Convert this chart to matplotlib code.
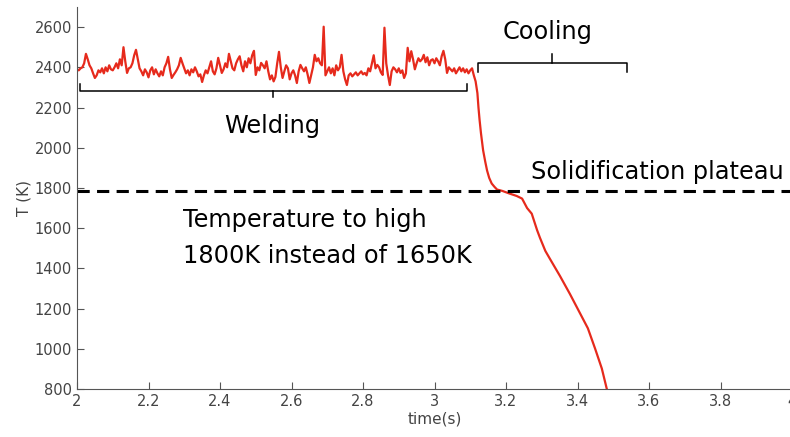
import numpy as np
import matplotlib
matplotlib.use("Agg")
import matplotlib.pyplot as plt

# welding phase, sampled every 5 ms from 2.000 s to 3.105 s
weld_T = [
    2390, 2385, 2395, 2400, 2420, 2467, 2440, 2410, 2395, 2370,
    2347, 2360, 2385, 2375, 2395, 2370, 2400, 2380, 2410, 2390,
    2385, 2400, 2420, 2395, 2440, 2410, 2500, 2430, 2372, 2395,
    2400, 2420, 2460, 2487, 2440, 2395, 2380, 2360, 2390, 2375,
    2350, 2385, 2400, 2365, 2390, 2370, 2355, 2380, 2360, 2400,
    2420, 2452, 2390, 2347, 2362, 2375, 2390, 2410, 2447, 2420,
    2395, 2370, 2385, 2360, 2390, 2375, 2400, 2380, 2355, 2365,
    2327, 2360, 2385, 2370, 2400, 2430, 2380, 2365, 2395, 2447,
    2410, 2372, 2390, 2420, 2400, 2467, 2430, 2395, 2385, 2420,
    2440, 2455, 2410, 2380, 2430, 2400, 2445, 2420, 2460, 2482,
    2362, 2400, 2385, 2422, 2410, 2395, 2430, 2380, 2340, 2360,
    2330, 2352, 2420, 2477, 2400, 2347, 2380, 2410, 2395, 2340,
    2370, 2385, 2360, 2322, 2380, 2412, 2395, 2380, 2400, 2365,
    2322, 2360, 2400, 2462, 2430, 2445, 2420, 2410, 2602, 2360,
    2380, 2400, 2370, 2395, 2360, 2410, 2385, 2400, 2462, 2380,
    2340, 2312, 2360, 2370, 2355, 2365, 2375, 2360, 2370, 2380,
    2365, 2372, 2360, 2395, 2380, 2420, 2460, 2395, 2412, 2400,
    2375, 2362, 2597, 2420, 2360, 2312, 2380, 2400, 2390, 2375,
    2395, 2372, 2385, 2347, 2370, 2497, 2430, 2480, 2440, 2390,
    2420, 2445, 2430, 2440, 2462, 2425, 2450, 2410, 2435, 2440,
    2420, 2445, 2430, 2410, 2455, 2482, 2440, 2372, 2400, 2390,
    2380, 2395, 2370, 2385, 2400, 2380, 2395, 2375, 2390, 2370,
    2385, 2395,
]
weld_t = np.round(np.linspace(2.0, 3.105, len(weld_T)), 4)

# cooling phase
cool_t = [3.110, 3.115, 3.120, 3.123, 3.126, 3.130, 3.136, 3.142, 3.147, 3.153,
          3.160, 3.168, 3.175, 3.190, 3.210, 3.230, 3.245, 3.259, 3.272, 3.287,
          3.295, 3.310, 3.323, 3.351, 3.379, 3.401, 3.429, 3.449, 3.468, 3.482,
          3.490]
cool_T = [2360, 2330, 2272, 2200, 2140, 2072, 1987, 1930, 1887, 1850,
          1822, 1805, 1792, 1785, 1772, 1760, 1747, 1700, 1672, 1590,
          1552, 1487, 1447, 1362, 1272, 1197, 1102, 1002, 902, 800,
          760]

plateau_T = 1785
x_ticks = [2, 2.2, 2.4, 2.6, 2.8, 3, 3.2, 3.4, 3.6, 3.8, 4]
x_labels = ["2", "2.2", "2.4", "2.6", "2.8", "3", "3.2", "3.4", "3.6", "3.8", "4"]
y_ticks = list(range(800, 2601, 200))

t = np.concatenate([weld_t, cool_t])
T = np.concatenate([weld_T, cool_T])

fig = plt.figure(figsize=(7.9, 4.37), dpi=100)
ax = fig.add_axes([77 / 790, 48 / 437, 715 / 790, 382 / 437])

ax.plot(t, T, color="#e62a1c", lw=1.6)
ax.axhline(plateau_T, color="black", lw=2.2, dashes=(4, 2.4))

ax.set_xlim(2, 4)
ax.set_ylim(800, 2700)
ax.set_xticks(x_ticks)
ax.set_xticklabels(x_labels)
ax.set_yticks(y_ticks)
for s in ["top", "right"]:
    ax.spines[s].set_visible(False)
for s in ["left", "bottom"]:
    ax.spines[s].set_color("#555555")
ax.tick_params(direction="in", length=5, colors="#555555", labelsize=10.5,
               labelcolor="#444444")
ax.set_xlabel("time(s)", fontsize=11, color="#444444", labelpad=2)
ax.set_ylabel("T (K)", fontsize=11, color="#444444", labelpad=2)

# braces
k = dict(color="black", lw=1.1)
ax.plot([2.008, 2.008, 3.091, 3.091], [2317, 2282, 2282, 2317], **k)
ax.plot([2.548, 2.548], [2282, 2252], **k)
ax.plot([3.122, 3.122, 3.538, 3.538], [2377, 2422, 2422, 2377], **k)
ax.plot([3.329, 3.329], [2422, 2467], **k)

fs = 17.3
ax.text(2.545, 2107, "Welding", fontsize=fs, ha="center", va="center")
ax.text(3.315, 2577, "Cooling", fontsize=fs, ha="center", va="center")
ax.text(3.27, 1877, "Solidification plateau", fontsize=fs, ha="left", va="center")
ax.text(2.297, 1642, "Temperature to high", fontsize=fs, ha="left", va="center")
ax.text(2.297, 1462, "1800K instead of 1650K", fontsize=fs, ha="left", va="center")

fig.savefig("out.png", dpi=100)
